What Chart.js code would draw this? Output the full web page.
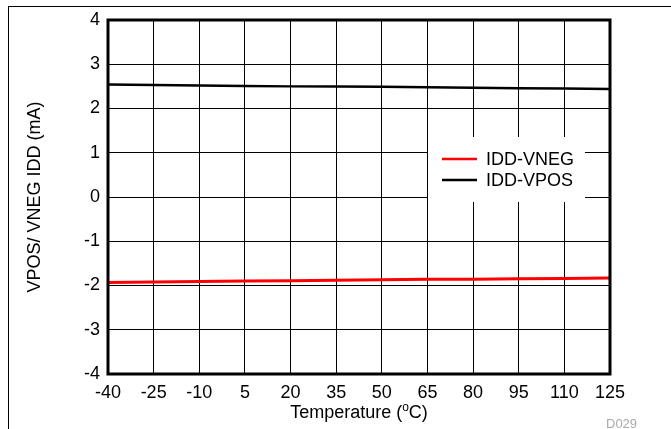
<!DOCTYPE html>
<html><head><meta charset="utf-8">
<script src="https://cdn.jsdelivr.net/npm/chart.js@4"></script>
<style>html,body{margin:0;padding:0;background:#fff}#wrap{width:671px;height:429px;position:relative}</style>
</head><body><div id="wrap"><canvas id="c" width="671" height="429"></canvas></div>
<script>
const temperatures = [-40, -25, -10, 5, 20, 35, 50, 65, 80, 95, 110, 125];
const iddVneg = [-1.93, -1.92, -1.91, -1.90, -1.89, -1.88, -1.87, -1.86, -1.86, -1.85, -1.84, -1.83];
const iddVpos = [2.54, 2.53, 2.52, 2.51, 2.50, 2.50, 2.49, 2.48, 2.47, 2.46, 2.45, 2.44];
const seriesNames = ['IDD-VNEG', 'IDD-VPOS'];
const xTitleParts = ['Temperature (', 'o', 'C)'];
const yTitle = 'VPOS/ VNEG IDD (mA)';
const FONT = '"Liberation Sans", Arial, sans-serif';

const extras = {
  id: 'extras',
  beforeDraw(chart) {
    const ctx = chart.ctx;
    ctx.save();
    ctx.fillStyle = '#fff';
    ctx.fillRect(0, 0, chart.width, chart.height);
    ctx.strokeStyle = '#000';
    ctx.lineWidth = 1;
    ctx.strokeRect(8.5, 6.5, 800, 600);
    ctx.restore();
  },
  afterDatasetsDraw(chart) {
    const ctx = chart.ctx;
    const a = chart.chartArea;
    ctx.save();
    ctx.fillStyle = '#fff';
    ctx.fillRect(428, 137, 157, 65);
    const ds = chart.data.datasets;
    const ys = [159, 180];
    ds.forEach((d, i) => {
      ctx.strokeStyle = d.borderColor;
      ctx.lineWidth = 2.5;
      ctx.beginPath();
      ctx.moveTo(442, ys[i]);
      ctx.lineTo(477, ys[i]);
      ctx.stroke();
      ctx.fillStyle = '#000';
      ctx.font = '18px ' + FONT;
      ctx.textBaseline = 'middle';
      ctx.textAlign = 'left';
      ctx.fillText(d.label, 486, ys[i] + 1);
    });
    ctx.strokeStyle = '#000';
    ctx.lineWidth = 3;
    ctx.strokeRect(a.left, a.top, a.right - a.left, a.bottom - a.top);
    // x axis title with superscript
    ctx.fillStyle = '#000';
    ctx.textBaseline = 'alphabetic';
    ctx.textAlign = 'left';
    const big = '18px ' + FONT, small = '12px ' + FONT;
    ctx.font = big; const w0 = ctx.measureText(xTitleParts[0]).width; const w2 = ctx.measureText(xTitleParts[2]).width;
    ctx.font = small; const w1 = ctx.measureText(xTitleParts[1]).width;
    let x = (a.left + a.right) / 2 - (w0 + w1 + w2) / 2;
    const base = 418;
    ctx.font = big; ctx.fillText(xTitleParts[0], x, base); x += w0;
    ctx.font = small; ctx.fillText(xTitleParts[1], x, base - 7); x += w1;
    ctx.font = big; ctx.fillText(xTitleParts[2], x, base);
    // footnote
    ctx.fillStyle = '#aaa';
    ctx.font = '13px ' + FONT;
    ctx.textBaseline = 'middle';
    ctx.fillText('D029', 606, 424);
    ctx.restore();
  }
};

new Chart(document.getElementById('c'), {
  type: 'line',
  data: {
    labels: temperatures,
    datasets: [
      { label: seriesNames[0], data: temperatures.map((t, i) => ({x: t, y: iddVneg[i]})), borderColor: '#ff0000', borderWidth: 3, pointRadius: 0, tension: 0 },
      { label: seriesNames[1], data: temperatures.map((t, i) => ({x: t, y: iddVpos[i]})), borderColor: '#000000', borderWidth: 2.5, pointRadius: 0, tension: 0 }
    ]
  },
  options: {
    responsive: false,
    animation: false,
    layout: { padding: { left: 0, right: 61, top: 20, bottom: 0 } },
    plugins: { legend: { display: false }, tooltip: { enabled: false } },
    scales: {
      x: {
        type: 'linear', min: -40, max: 125,
        afterBuildTicks(s) { s.ticks = temperatures.map(v => ({value: v})); },
        afterFit(s) { s.height = 55; },
        ticks: { color: '#000', font: { family: FONT, size: 18 }, padding: 8, maxRotation: 0, autoSkip: false },
        grid: { color: '#000', lineWidth: 1, drawTicks: false },
        border: { display: false },
        title: { display: false }
      },
      y: {
        min: -4, max: 4,
        afterFit(s) { s.width = 108; },
        ticks: { stepSize: 1, color: '#000', font: { family: FONT, size: 18 }, padding: 8 },
        grid: { color: '#000', lineWidth: 1, drawTicks: false },
        border: { display: false },
        title: { display: true, text: yTitle, color: '#000', font: { family: FONT, size: 18 }, padding: { top: 24, bottom: 0 } }
      }
    }
  },
  plugins: [extras]
});
</script></body></html>
